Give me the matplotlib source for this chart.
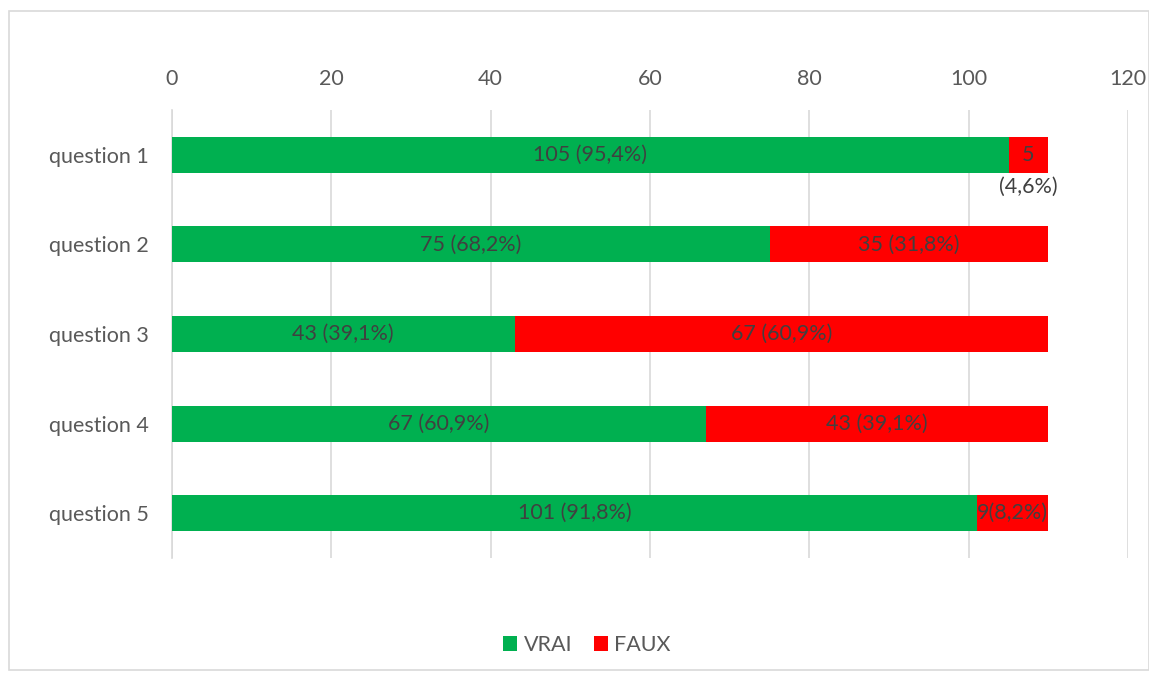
import matplotlib
matplotlib.use("Agg")
import matplotlib.pyplot as plt
from matplotlib.patches import Rectangle

categories = ["question 1", "question 2", "question 3", "question 4", "question 5"]
vrai = [105, 75, 43, 67, 101]
faux = [5, 35, 67, 43, 9]
vrai_labels = ["105 (95,4%)", "75 (68,2%)", "43 (39,1%)", "67 (60,9%)", "101 (91,8%)"]
faux_labels = ["5\n(4,6%)", "35 (31,8%)", "67 (60,9%)", "43 (39,1%)", "9(8,2%)"]
xticks = [0, 20, 40, 60, 80, 100, 120]

plt.rcParams['font.family'] = ['Lato', 'DejaVu Sans']
GREEN = "#00B050"
RED = "#FF0000"
TXT = "#595959"
LBL = "#404040"
FS = 15.5

fig = plt.figure(figsize=(11.49, 6.75), dpi=100)
fig.patches.append(Rectangle((9/1149, 5/675), 1 - 9/1149, 1 - 16/675, transform=fig.transFigure,
                             fill=False, edgecolor="#d9d9d9", linewidth=1.2))
ax = fig.add_axes([172/1149, 1 - 558/675, (1128 - 172)/1149, (558 - 110)/675])

y = list(range(len(categories)))
bv = ax.barh(y, vrai, height=0.4, color=GREEN, label="VRAI", zorder=3)
bf = ax.barh(y, faux, left=vrai, height=0.4, color=RED, label="FAUX", zorder=3)

for i in y:
    ax.text(vrai[i] / 2, i, vrai_labels[i], ha="center", va="center", fontsize=FS, color=LBL, zorder=4)
    lines = faux_labels[i].split("\n")
    for k, line in enumerate(lines):
        ax.text(vrai[i] + faux[i] / 2, i + 0.355 * k, line, ha="center", va="center",
                fontsize=FS, color=LBL, zorder=4)

ax.set_xlim(0, 120)
ax.set_ylim(4.5, -0.5)
ax.set_xticks(xticks)
ax.set_yticks(y)
ax.set_yticklabels(categories)
ax.xaxis.tick_top()
ax.tick_params(axis="x", length=0, pad=15, labelsize=FS, labelcolor=TXT)
ax.tick_params(axis="y", length=0, pad=17, labelsize=FS, labelcolor=TXT)
ax.grid(axis="x", color="#d9d9d9", linewidth=1.2, zorder=0)
for s in ["top", "right", "bottom"]:
    ax.spines[s].set_visible(False)
ax.spines["left"].set_color("#d9d9d9")
ax.spines["left"].set_linewidth(1.2)

fig.legend(handles=[bv, bf], labels=["VRAI", "FAUX"], loc="center", bbox_to_anchor=(587/1149, 1 - 645/675),
           ncol=2, frameon=False, fontsize=FS, labelcolor=TXT, handlelength=0.65, handleheight=0.65,
           handletextpad=0.3, columnspacing=1.0)

fig.savefig("out.png", dpi=100)
